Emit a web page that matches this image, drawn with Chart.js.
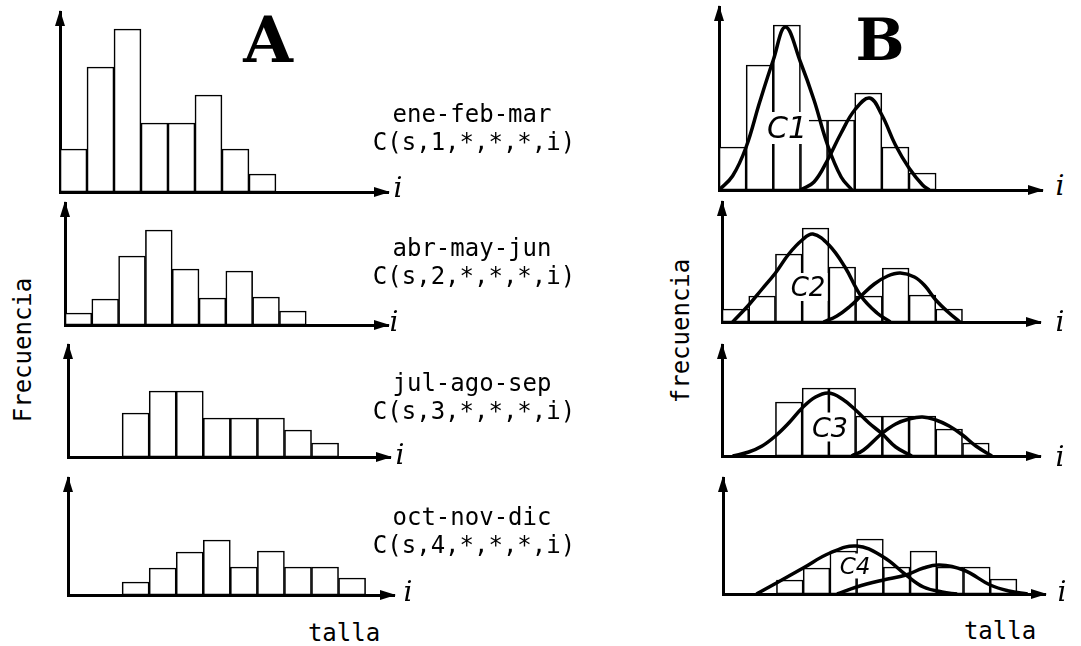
<!DOCTYPE html>
<html>
<head>
<meta charset="utf-8">
<script src="https://cdn.jsdelivr.net/npm/chart.js@4"></script>
<style>
  body { margin: 0; background: #fff; }
  #page { position: relative; width: 1081px; height: 646px; overflow: hidden; background: #fff; }
  canvas { position: absolute; }
  .t { position: absolute; transform: translate(-50%, -50%); white-space: nowrap; color: #000; line-height: 1; }
  .mono { font-family: "DejaVu Sans Mono", monospace; font-size: 24px; }
  .big { font-family: "DejaVu Serif", serif; font-weight: bold; }
  .ax { font-family: "DejaVu Serif", serif; font-style: italic; font-size: 28px; }
  .cl { font-family: "DejaVu Sans", sans-serif; font-style: italic; background: #fff; padding: 1px 2px; }
  .rot { transform: translate(-50%, -50%) rotate(-90deg); }
</style>
</head>
<body>
<div id="page">
  <canvas id="a1"></canvas><canvas id="a2"></canvas><canvas id="a3"></canvas><canvas id="a4"></canvas>
  <canvas id="b1"></canvas><canvas id="b2"></canvas><canvas id="b3"></canvas><canvas id="b4"></canvas>

  <div class="t big" style="left:268px;top:40px;font-size:64px">A</div>
  <div class="t big" style="left:880px;top:40px;font-size:58px">B</div>

  <div class="t mono" style="left:472px;top:114px">ene-feb-mar</div>
  <div class="t mono" style="left:474px;top:142px">C(s,1,*,*,*,i)</div>
  <div class="t mono" style="left:472px;top:248px">abr-may-jun</div>
  <div class="t mono" style="left:474px;top:276px">C(s,2,*,*,*,i)</div>
  <div class="t mono" style="left:472px;top:383px">jul-ago-sep</div>
  <div class="t mono" style="left:474px;top:411px">C(s,3,*,*,*,i)</div>
  <div class="t mono" style="left:472px;top:517px">oct-nov-dic</div>
  <div class="t mono" style="left:474px;top:545px">C(s,4,*,*,*,i)</div>

  <div class="t mono rot" style="left:23px;top:350px">Frecuencia</div>
  <div class="t mono rot" style="left:681px;top:331px">frecuencia</div>
  <div class="t mono" style="left:344px;top:633px">talla</div>
  <div class="t mono" style="left:1000px;top:631px">talla</div>

  <div class="t ax" style="left:398px;top:188px">i</div>
  <div class="t ax" style="left:394px;top:322px">i</div>
  <div class="t ax" style="left:400px;top:455px">i</div>
  <div class="t ax" style="left:408px;top:592px">i</div>
  <div class="t ax" style="left:1060px;top:186px">i</div>
  <div class="t ax" style="left:1060px;top:322px">i</div>
  <div class="t ax" style="left:1060px;top:457px">i</div>
  <div class="t ax" style="left:1062px;top:592px">i</div>

  <div class="t cl" style="left:787px;top:128px;font-size:30px">C1</div>
  <div class="t cl" style="left:808px;top:287px;font-size:26px">C2</div>
  <div class="t cl" style="left:830px;top:427px;font-size:27px">C3</div>
  <div class="t cl" style="left:855px;top:566px;font-size:23px">C4</div>
</div>
<script>
// frequency per talla class (heights), first class index per panel
const binsA1 = [43, 125, 163, 69, 69, 97, 43, 18];
const binsA2 = [12, 26, 69, 95, 56, 27, 54, 28, 14];
const binsA3 = [44, 66, 66, 39, 39, 39, 27, 14];
const binsA4 = [13, 27, 43, 55, 28, 44, 28, 28, 17];
const binsB1 = [43, 125, 165, 70, 70, 97, 43, 17];
const binsB2 = [13, 26, 68, 94, 55, 26, 54, 27, 13];
const binsB3 = [54, 68, 68, 40, 40, 40, 27, 13];
const binsB4 = [14, 26, 43, 55, 27, 43, 27, 27, 15];
const firstBin = { a1: 0, a2: 0, a3: 2, a4: 2, b1: 0, b2: 0, b3: 2, b4: 2 };

// fitted cohort curves (class position, frequency)
const c1aX = [0, 0.5, 1, 1.5, 2, 2.45, 3, 3.5, 4, 4.5, 4.9];
const c1aY = [0, 14, 43, 88, 130, 163, 128, 90, 45, 13, 0];
const c1bX = [3.0, 3.5, 4, 4.5, 5, 5.55, 6, 6.5, 7, 7.5, 7.75];
const c1bY = [0, 8, 30, 57, 80, 92, 75, 45, 22, 5, 0];

const c2aX = [0.4, 1, 1.5, 2, 2.5, 3, 3.4, 4, 4.6, 5.2, 5.8, 6.3];
const c2aY = [0, 17, 33, 49, 68, 82, 88, 77, 55, 26, 9, 0];
const c2bX = [3.8, 4.3, 4.8, 5.2, 5.7, 6.2, 6.67, 7.2, 7.6, 8.0, 8.5, 8.9];
const c2bY = [0, 6, 16, 26, 38, 46, 49, 45, 36, 22, 9, 0];

const c3aX = [0.4, 1, 1.5, 2, 2.5, 3, 3.5, 4, 4.5, 5, 5.5, 6, 6.5, 7.1];
const c3aY = [0, 4, 10, 20, 33, 48, 59, 63, 57, 46, 33, 22, 9, 0];
const c3bX = [4.85, 5.3, 5.96, 6.5, 7, 7.5, 8, 8.5, 9, 9.5, 10.1];
const c3bY = [0, 6, 22, 32, 37, 39, 36, 30, 21, 10, 0];

const c4aX = [1.25, 2, 3, 4, 5, 6, 6.85, 7.5, 8.2, 8.76];
const c4aY = [0, 11, 26, 41, 48, 37, 19, 7, 2, 0];
const c4bX = [4.27, 5, 6, 6.85, 7.5, 8.1, 9, 10, 10.7, 11.4];
const c4bY = [0, 7, 14, 19, 26, 29, 24, 9, 3, 0];

// plot boxes on the page: axis origin, arrow tips, axis ranges
const PAD = 8;
const boxes = {
    a1: { left: 60,  top: 12,  right: 388,  bottom: 192, xMax: 12.15, yMax: 180 },
    a2: { left: 65,  top: 203, right: 388,  bottom: 325, xMax: 12.05, yMax: 122 },
    a3: { left: 68,  top: 345, right: 390,  bottom: 457, xMax: 11.9,  yMax: 112 },
    a4: { left: 68,  top: 478, right: 394,  bottom: 595, xMax: 12.05, yMax: 117 },
    b1: { left: 719, top: 7,   right: 1042, bottom: 190, xMax: 11.9,  yMax: 183 },
    b2: { left: 722, top: 202, right: 1040, bottom: 322, xMax: 11.9,  yMax: 120 },
    b3: { left: 722, top: 345, right: 1040, bottom: 456, xMax: 11.9,  yMax: 111 },
    b4: { left: 723, top: 478, right: 1045, bottom: 594, xMax: 12.05, yMax: 116 }
};

const arrowHeads = {
    id: "arrowHeads",
    afterDraw(chart){
        const ctx = chart.ctx;
        const x0 = chart.scales.x.getPixelForValue(chart.scales.x.min);
        const x1 = chart.scales.x.getPixelForValue(chart.scales.x.max);
        const y0 = chart.scales.y.getPixelForValue(0);
        const y1 = chart.scales.y.getPixelForValue(chart.scales.y.max);
        ctx.save();
        ctx.fillStyle = "#000";
        ctx.beginPath();
        ctx.moveTo(x0, y1 - 2);
        ctx.lineTo(x0 - 5, y1 + 14);
        ctx.lineTo(x0 + 5, y1 + 14);
        ctx.closePath();
        ctx.fill();
        ctx.beginPath();
        ctx.moveTo(x1 + 2, y0);
        ctx.lineTo(x1 - 14, y0 - 5);
        ctx.lineTo(x1 - 14, y0 + 5);
        ctx.closePath();
        ctx.fill();
        ctx.restore();
    }
};

function curve(xs, ys){
    return {
        type: "line",
        data: xs.map((x, i) => ({ x: x, y: ys[i] })),
        borderColor: "#000",
        borderWidth: 3.5,
        pointRadius: 0,
        fill: false,
        tension: 0.4,
        order: 1
    };
}

function drawPanel(id, bins, curves){

    const box = boxes[id];
    const canvas = document.getElementById(id);

    canvas.width = box.right - box.left + 2 * PAD;
    canvas.height = box.bottom - box.top + 2 * PAD;
    canvas.style.left = (box.left - PAD) + "px";
    canvas.style.top = (box.top - PAD) + "px";

    const datasets = [{
        type: "bar",
        data: bins.map((v, k) => ({ x: firstBin[id] + k + 0.5, y: v })),
        backgroundColor: "#fff",
        borderColor: "#000",
        borderWidth: 1.6,
        borderSkipped: false,
        barPercentage: 1,
        categoryPercentage: 1,
        order: 2
    }].concat(curves);

    new Chart(canvas, {
        type: "bar",
        data: { datasets: datasets },
        options: {
            responsive: false,
            animation: false,
            layout: { padding: PAD },
            plugins: {
                legend: { display: false },
                tooltip: { enabled: false }
            },
            scales: {
                x: {
                    type: "linear",
                    min: 0,
                    max: box.xMax,
                    offset: false,
                    ticks: { display: false },
                    grid: { display: false, drawTicks: false, offset: false },
                    border: { display: true, width: 3, color: "#000" }
                },
                y: {
                    type: "linear",
                    min: 0,
                    max: box.yMax,
                    ticks: { display: false },
                    grid: { display: false, drawTicks: false },
                    border: { display: true, width: 3, color: "#000" }
                }
            }
        },
        plugins: [arrowHeads]
    });
}

drawPanel("a1", binsA1, []);
drawPanel("a2", binsA2, []);
drawPanel("a3", binsA3, []);
drawPanel("a4", binsA4, []);
drawPanel("b1", binsB1, [curve(c1aX, c1aY), curve(c1bX, c1bY)]);
drawPanel("b2", binsB2, [curve(c2aX, c2aY), curve(c2bX, c2bY)]);
drawPanel("b3", binsB3, [curve(c3aX, c3aY), curve(c3bX, c3bY)]);
drawPanel("b4", binsB4, [curve(c4aX, c4aY), curve(c4bX, c4bY)]);
</script>
</body>
</html>
